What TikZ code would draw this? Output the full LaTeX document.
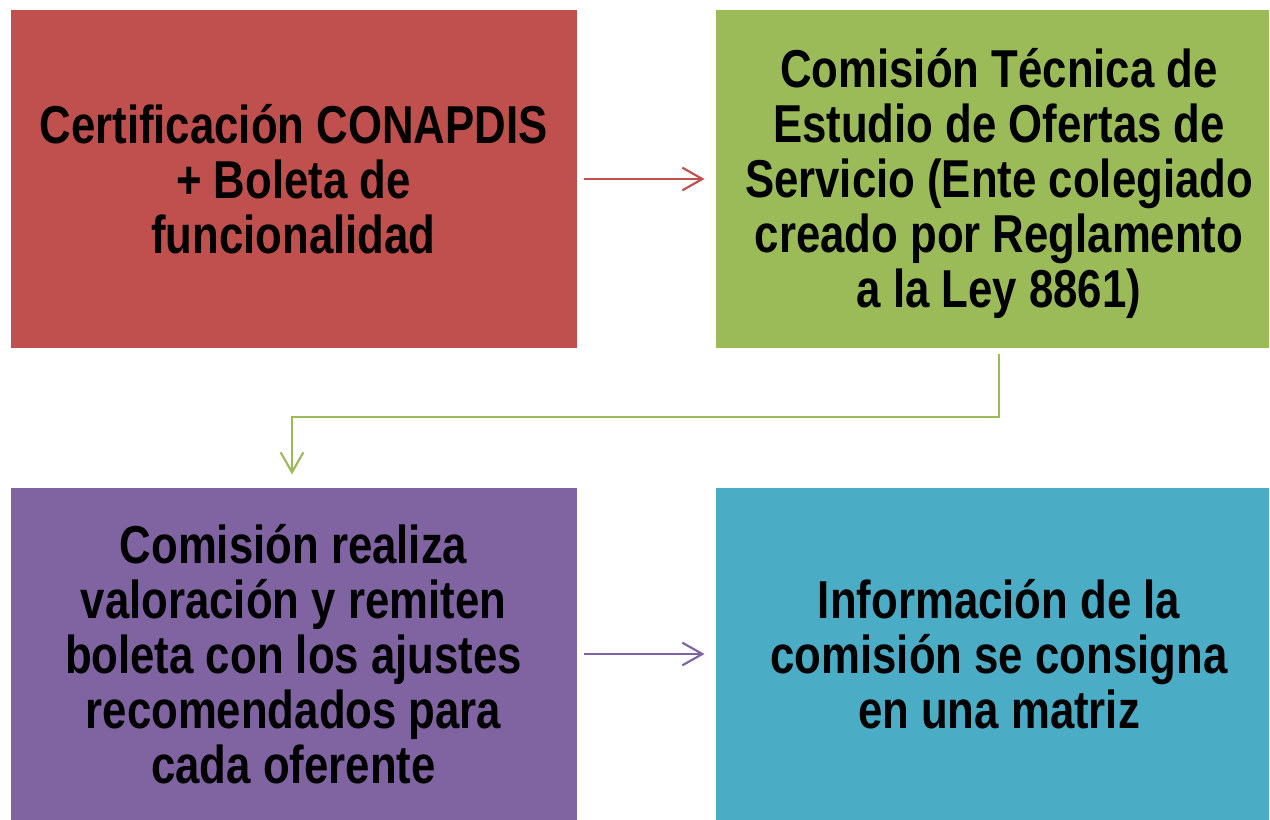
\documentclass[tikz,border=0pt]{standalone}
\usepackage{fontspec}
\newfontfamily\boxfont[FakeStretch=0.82]{Liberation Sans Bold}
\usetikzlibrary{arrows.meta}

\definecolor{cRed}{RGB}{192,80,77}
\definecolor{cGreen}{RGB}{155,187,89}
\definecolor{cPurple}{RGB}{128,100,162}
\definecolor{cTeal}{RGB}{75,172,198}

\tikzset{every picture/.style={line width=0.75pt}}
\tikzset{
  stepbox/.style={draw=white, line width=0.75pt, inner sep=0pt, align=center,
    font=\boxfont\fontsize{40}{41.25}\selectfont},
  boxtext/.style={inner sep=0pt, align=center, font=\boxfont\fontsize{40}{41.25}\selectfont},
  flow/.style={line width=1.6pt, -{Straight Barb[length=15pt,width=17pt,line width=1.6pt]}}
}

\begin{document}
\begin{tikzpicture}[x=0.75pt,y=0.75pt,yscale=-1,xscale=1]
\useasboundingbox (0,0) rectangle (1270,820);

%Shape: Rectangle [certificacion]
\node [stepbox, fill=cRed, minimum width=425.25pt, minimum height=253.5pt] (cert) at (293.5,179)
  {Certificación CONAPDIS\\+ Boleta de\\funcionalidad};
%Shape: Rectangle [comision tecnica]
\node [stepbox, fill=cGreen, minimum width=415.5pt, minimum height=253.5pt] (ctec) at (992,179)
  {};
\node [boxtext] (ctecText) at ([xshift=5.25pt,yshift=3pt]ctec.center)
  {Comisión Técnica de\\Estudio de Ofertas de\\Servicio (Ente colegiado\\creado por Reglamento\\a la Ley 8861)};
%Shape: Rectangle [valoracion]
\node [stepbox, fill=cPurple, minimum width=425.25pt, minimum height=250.5pt] (valor) at (293.5,654)
  {Comisión realiza\\valoración y remiten\\boleta con los ajustes\\recomendados para\\cada oferente};
%Shape: Rectangle [matriz]
\node [stepbox, fill=cTeal, minimum width=415.5pt, minimum height=250.5pt] (matriz) at (992,654)
  {};
\node [boxtext] (matrizText) at ([xshift=5.25pt]matriz.center)
  {Información de la\\comisión se consigna\\en una matriz};

%Connector elbow
\coordinate (elbow) at (999,417);

% Arrows
\draw [flow, cRed, shorten <=4.5pt, shorten >=7.5pt] (cert.east) -- (ctec.west);
\draw [flow, cGreen, shorten >=9pt] (ctec.south -| elbow) ++(0,5) -- (elbow) -| (valor.north -| 292,0);
\draw [flow, cPurple, shorten <=4.5pt, shorten >=7.5pt] (valor.east) -- (matriz.west);

\end{tikzpicture}
\end{document}
